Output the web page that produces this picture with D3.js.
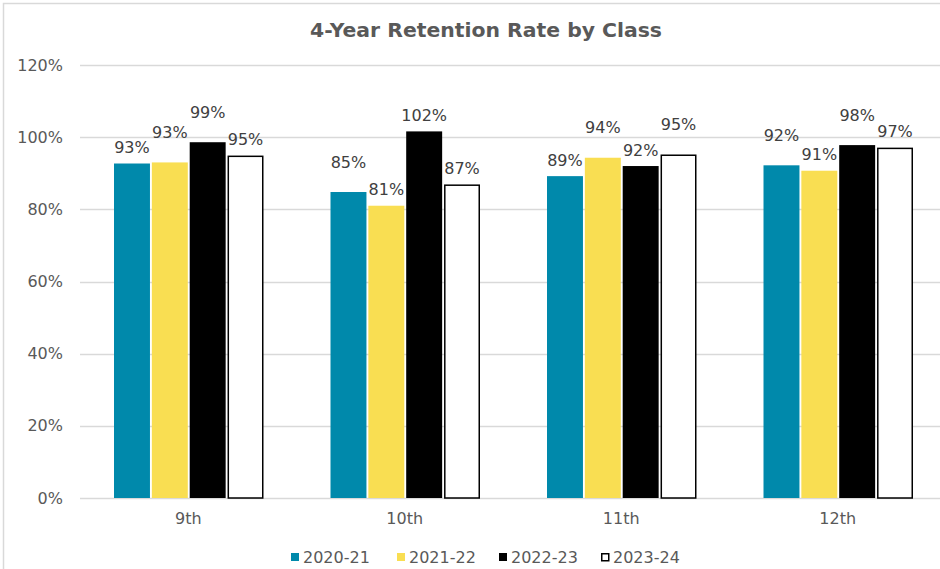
<!DOCTYPE html>
<html>
<head>
<meta charset="utf-8">
<script src="https://cdn.jsdelivr.net/npm/d3@7"></script>
<style>
  body { margin: 0; background: #fff; }
  text { font-family: "DejaVu Sans", Verdana, sans-serif; }
</style>
</head>
<body>
<div class="js-chart"></div>
<script>
'use strict';

// data
const classes = ['9th', '10th', '11th', '12th'];
const years = ['2020-21', '2021-22', '2022-23', '2023-24'];
const rate2020 = [92.7, 84.8, 89.2, 92.2];
const rate2021 = [93.0, 81.0, 94.3, 90.7];
const rate2022 = [98.6, 101.6, 92.0, 97.8];
const rate2023 = [94.9, 86.9, 95.2, 97.1];
const yTicks = [0, 20, 40, 60, 80, 100, 120];

const seriesValues = [rate2020, rate2021, rate2022, rate2023];
const colors = ['#0089ab', '#f9de52', '#000000', '#ffffff'];

const width = 940;
const height = 569;
const margin = { top: 65, right: -6, bottom: 71, left: 80 };
const graphWidth = width - margin.left - margin.right;
const graphHeight = height - margin.top - margin.bottom;

const svg = d3.select('.js-chart')
    .append('svg')
    .attr('width', width)
    .attr('height', height);

// outer chart border
svg.append('rect')
    .attr('x', 3.5)
    .attr('y', 3.5)
    .attr('width', width + 10)
    .attr('height', height + 10)
    .attr('fill', 'none')
    .attr('stroke', '#d9d9d9')
    .attr('stroke-width', 1.5);

// title
svg.append('text')
    .attr('x', 486)
    .attr('y', 37)
    .attr('text-anchor', 'middle')
    .attr('font-size', 19)
    .attr('font-weight', 'bold')
    .attr('fill', '#595959')
    .attr('textLength', 352)
    .attr('lengthAdjust', 'spacingAndGlyphs')
    .text('4-Year Retention Rate by Class');

const graph = svg.append('g')
    .attr('transform', `translate(${margin.left}, ${margin.top})`);

// scales
const x0 = d3.scaleBand().domain(classes).range([0, graphWidth]);
const x1 = d3.scaleBand()
    .domain(years)
    .range([34, x0.bandwidth() - 33])
    .paddingInner(0.05);
const y = d3.scaleLinear().domain([0, 120]).range([graphHeight, 0]);

// gridlines
graph.append('g')
    .selectAll('line')
    .data(yTicks)
    .enter()
    .append('line')
    .attr('x1', 0)
    .attr('x2', graphWidth)
    .attr('y1', d => Math.round(y(d)) + 0.5)
    .attr('y2', d => Math.round(y(d)) + 0.5)
    .attr('stroke', '#d9d9d9')
    .attr('stroke-width', 1.5);

// y axis labels
const yAxis = d3.axisLeft(y)
    .tickValues(yTicks)
    .tickSize(0)
    .tickPadding(17)
    .tickFormat(d => d + '%');

graph.append('g')
    .call(yAxis)
    .call(g => g.select('.domain').remove())
    .selectAll('text')
    .attr('font-size', 16)
    .attr('font-family', '"DejaVu Sans", Verdana, sans-serif')
    .attr('fill', '#595959');

// x axis labels
const xAxis = d3.axisBottom(x0).tickSize(0).tickPadding(15);

graph.append('g')
    .attr('transform', `translate(0, ${graphHeight})`)
    .call(xAxis)
    .call(g => g.select('.domain').remove())
    .selectAll('text')
    .attr('font-size', 16)
    .attr('font-family', '"DejaVu Sans", Verdana, sans-serif')
    .attr('fill', '#595959');

// bar records
const bars = [];
classes.forEach((c, ci) => {
    years.forEach((yr, si) => {
        bars.push({ cls: c, year: yr, series: si, value: seriesValues[si][ci] });
    });
});

// bars
graph.selectAll('rect.bar')
    .data(bars)
    .enter()
    .append('rect')
    .attr('class', 'bar')
    .attr('x', d => x0(d.cls) + x1(d.year) + (d.series === 3 ? 0.75 : 0))
    .attr('y', d => y(d.value) + (d.series === 3 ? 0.75 : 0))
    .attr('width', d => x1.bandwidth() - (d.series === 3 ? 1.5 : 0))
    .attr('height', d => graphHeight - y(d.value) - (d.series === 3 ? 0.75 : 0))
    .attr('fill', d => colors[d.series])
    .attr('stroke', d => d.series === 3 ? '#000' : 'none')
    .attr('stroke-width', 1.5);

// label placement: nudge taller neighbour up when labels collide
const lowOff = 16;
const highOff = 30;
classes.forEach(c => {
    const group = bars.filter(b => b.cls === c);
    group.forEach(b => { b.off = lowOff; });
    for (let i = 1; i < group.length; i++) {
        const a = group[i - 1];
        const b = group[i];
        const ya = y(a.value) - a.off;
        const yb = y(b.value) - b.off;
        if (Math.abs(ya - yb) < 20) {
            if (b.value >= a.value) b.off = highOff;
            else a.off = highOff;
        }
    }
});

graph.selectAll('text.label')
    .data(bars)
    .enter()
    .append('text')
    .attr('class', 'label')
    .attr('x', d => x0(d.cls) + x1(d.year) + x1.bandwidth() / 2)
    .attr('y', d => y(d.value) - d.off)
    .attr('dy', '0.35em')
    .attr('text-anchor', 'middle')
    .attr('font-size', 16)
    .attr('fill', '#404040')
    .text(d => Math.round(d.value) + '%');

// legend
const legendX = [291, 397, 499, 601];
const legend = svg.append('g')
    .selectAll('g')
    .data(years)
    .enter()
    .append('g')
    .attr('transform', (d, i) => `translate(${legendX[i]}, 553)`);

legend.append('rect')
    .attr('x', (d, i) => i === 3 ? 0.75 : 0)
    .attr('y', (d, i) => i === 3 ? 0.75 : 0)
    .attr('width', (d, i) => i === 3 ? 7 : 8)
    .attr('height', (d, i) => i === 3 ? 7 : 8)
    .attr('fill', (d, i) => colors[i])
    .attr('stroke', (d, i) => i === 3 ? '#000' : 'none')
    .attr('stroke-width', 1.5);

legend.append('text')
    .attr('x', 12)
    .attr('y', 4)
    .attr('dy', '0.35em')
    .attr('font-size', 16)
    .attr('fill', '#595959')
    .text(d => d);
</script>
</body>
</html>
